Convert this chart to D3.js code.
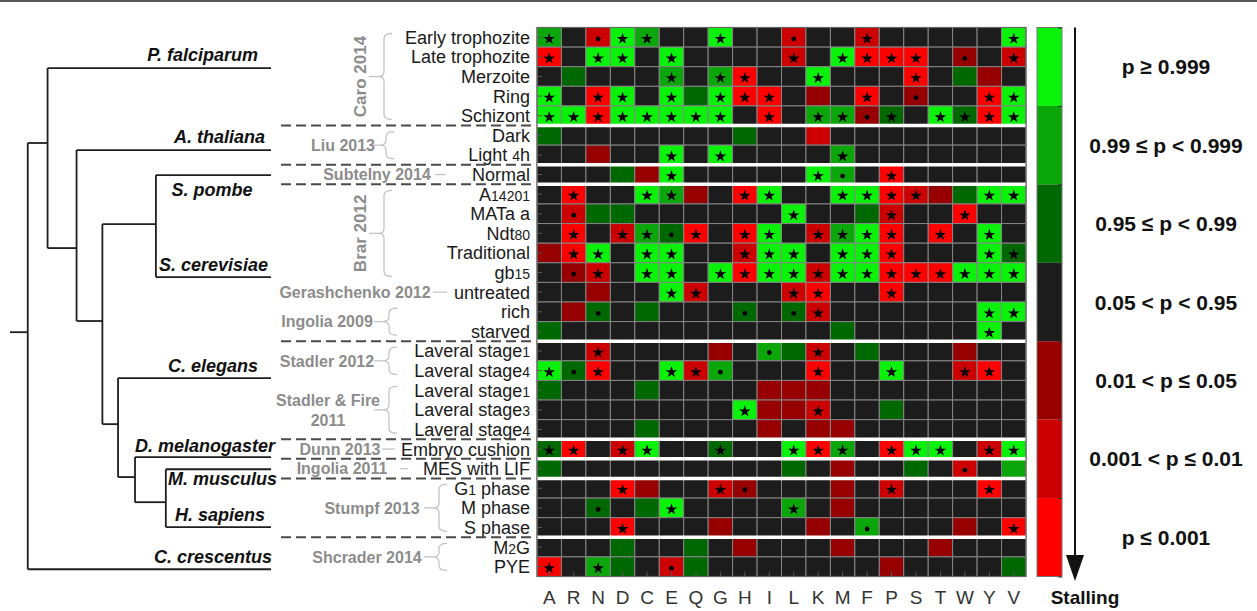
<!DOCTYPE html>
<html>
<head>
<meta charset="utf-8">
<script src="https://cdn.jsdelivr.net/npm/d3@7"></script>
<style>
  body { margin: 0; background: #fff; }
  svg { display: block; font-family: "Liberation Sans", Arial, sans-serif; }
</style>
</head>
<body>
<svg id="chart" width="1257" height="611"></svg>
<script>
// amino acid columns
var aminoAcids = ["A","R","N","D","C","E","Q","G","H","I","L","K","M","F","P","S","T","W","Y","V"];

// rows of the heatmap (digits get drawn smaller)
var sampleNames = ["Early trophozite","Late trophozite","Merzoite","Ring","Schizont",
    "Dark","Light 4h","Normal",
    "A14201","MATa a","Ndt80","Traditional","gb15",
    "untreated","rich","starved",
    "Laveral stage1","Laveral stage4",
    "Laveral stage1","Laveral stage3","Laveral stage4",
    "Embryo cushion","MES with LIF",
    "G1 phase","M phase","S phase",
    "M2G","PYE"];

// significance level per cell: 0 = p<=0.001 (stalling) ... 6 = p>=0.999
var cellLevels = [
    "53165336331331333336",
    "03663633331360003231",
    "34333535033633303423",
    "63063646003230323306",
    "66066666303552436406",
    "43333333433133333333",
    "33233636333353333333",
    "33342633333653033333",
    "30336523063366012466",
    "31443333336334133033",
    "30315403063156030363",
    "20636633166366033364",
    "32136636066166000666",
    "33233613331033033333",
    "32434333434133333366",
    "43333333333343333363",
    "33133332354134333233",
    "64033615333033633103",
    "43334333322233333333",
    "33333333622133433333",
    "33334333323223333333",
    "40316334336053066316",
    "43333333334323343135",
    "33302331233323133303",
    "33434633335323333333",
    "33303332333235333230",
    "33343343233323332333",
    "03543143333333233334"
];

// markers per cell: * star, . dot, - none
var cellMarks = [
    "*-.**--*--.--*-----*",
    "*-**-*----*-****-.-*",
    "-----*-**--*---*----",
    "*-**-*-***---*-.--**",
    "********-*-**.*-****",
    "--------------------",
    "-----*-*----*-------",
    "-----*-----*.-*-----",
    "-*--**--**--****--**",
    "-.--------*---*--*--",
    "-*-**.*-**-****-*-*-",
    "-**-**--***-***---**",
    "-.*-**-*************",
    "-----**---**--*-----",
    "--.-----.-.*------**",
    "------------------*-",
    "--*------.-*--------",
    "*.*--**.---*--*--**-",
    "--------------------",
    "--------*--*--------",
    "--------------------",
    "**-**--*--***-***-**",
    "-----------------.--",
    "---*---*.-----*---*-",
    "--.--*----*---------",
    "---*---------.-----*",
    "--------------------",
    "*-*--.--------------"
];

var levelColors = ["#ff0000","#cc0000","#960000","#1c1c1c","#006800","#0aa60a","#0af20a"];
var levelLabels = ["p \u2264 0.001","0.001 < p \u2264 0.01","0.01 < p \u2264 0.05","0.05 < p < 0.95",
    "0.95 \u2264 p < 0.99","0.99 \u2264 p < 0.999","p \u2265 0.999"];

// studies grouping the rows
var studyNames = ["Caro 2014","Liu 2013","Subtelny 2014","Brar 2012","Gerashchenko 2012","Ingolia 2009",
    "Stadler 2012","Stadler & Fire|2011","Dunn 2013","Ingolia 2011","Stumpf 2013","Shcrader 2014"];
var studyFirstRow = [0,5,7,8,13,14,16,18,21,22,23,26];
var studyRowCount = [5,2,1,5,1,2,2,3,1,1,3,2];
// dashed / white separators sit before these rows
var separatorRows = [5,7,8,16,21,22,23,26];

// species tree: branch position (0-100) and row position of every node
var treeNames   = ["root","n1","P. falciparum","n2","A. thaliana","n3","yeast","S. pombe","S. cerevisiae",
    "anim","C. elegans","n5","D. melanogaster","n6","M. musculus","H. sapiens","C. crescentus"];
var treeParents = ["","root","n1","n1","n2","n2","n3","yeast","yeast","n3","anim","anim","n5","n5","n6","n6","root"];
var treeDepth   = [6.8,14.4,100,25.5,100,35.4,55.9,100,100,41.4,100,47.9,100,59.7,100,100,100];
var treeRow     = [15.54,5.89,2.07,11.25,6.25,14.97,10.03,7.53,12.73,20.23,17.88,22.93,21.91,24.21,22.53,25.48,27.63];

var svg = d3.select("#chart");

// top rule
svg.append("line").attr("x1", 0).attr("x2", 1257).attr("y1", 1).attr("y2", 1)
    .attr("stroke", "#222").attr("stroke-width", 1.5);

var x = d3.scaleBand().domain(d3.range(aminoAcids.length)).range([537, 1026]);
var y = d3.scaleBand().domain(d3.range(sampleNames.length)).range([27.5, 576.5]);
var yRow = d3.scaleLinear().domain([0, sampleNames.length]).range([27.5, 576.5]);

// ---- heatmap cells
var cells = [];
cellLevels.forEach(function (row, r) {
    for (var c = 0; c < aminoAcids.length; c++) {
        cells.push({ r: r, c: c, level: +row[c], mark: cellMarks[r][c] });
    }
});

var heat = svg.append("g");
heat.selectAll("rect.cell")
    .data(cells)
    .enter()
    .append("rect")
    .attr("class", "cell")
    .attr("x", function (d) { return x(d.c); })
    .attr("y", function (d) { return y(d.r); })
    .attr("width", x.bandwidth())
    .attr("height", y.bandwidth())
    .attr("fill", function (d) { return levelColors[d.level]; })
    .attr("stroke", "#858585")
    .attr("stroke-width", 1);

var star = d3.symbol().type(d3.symbolStar).size(42);
var dot = d3.symbol().type(d3.symbolCircle).size(18);
heat.selectAll("path.mark")
    .data(cells.filter(function (d) { return d.mark !== "-"; }))
    .enter()
    .append("path")
    .attr("class", "mark")
    .attr("d", function (d) { return d.mark === "*" ? star() : dot(); })
    .attr("transform", function (d) {
        return "translate(" + (x(d.c) + x.bandwidth() / 2) + "," + (y(d.r) + y.bandwidth() / 2 + 1.5) + ")";
    })
    .attr("fill", "#000");

// small inner ticks
heat.append("g").attr("transform", "translate(537,0)")
    .call(d3.axisLeft(y).tickSize(-5).tickFormat(""))
    .call(function (g) { g.select(".domain").remove(); g.selectAll("line").attr("stroke", "#555"); });
heat.append("g").attr("transform", "translate(0,576.5)")
    .call(d3.axisBottom(x).tickSize(-5).tickFormat(""))
    .call(function (g) { g.select(".domain").remove(); g.selectAll("line").attr("stroke", "#555"); });

// white separators
heat.selectAll("line.sep")
    .data(separatorRows)
    .enter()
    .append("line")
    .attr("x1", 537).attr("x2", 1026)
    .attr("y1", function (d) { return yRow(d); })
    .attr("y2", function (d) { return yRow(d); })
    .attr("stroke", "#fff").attr("stroke-width", 3.5);

heat.append("rect")
    .attr("x", 537).attr("y", 27.5).attr("width", 489).attr("height", 549)
    .attr("fill", "none").attr("stroke", "#666").attr("stroke-width", 1.2);

// column labels
svg.append("g").attr("transform", "translate(0,576.5)")
    .call(d3.axisBottom(x).tickSize(0).tickPadding(14).tickFormat(function (i) { return aminoAcids[i]; }))
    .call(function (g) {
        g.select(".domain").remove();
        g.selectAll("text").attr("font-size", 19).attr("fill", "#333")
            .attr("font-family", "Liberation Sans, Arial, sans-serif");
    });

// ---- row labels
var rowLabels = svg.append("g");
sampleNames.forEach(function (name, r) {
    var t = rowLabels.append("text")
        .attr("x", 530)
        .attr("y", y(r) + y.bandwidth() / 2)
        .attr("dy", "0.36em")
        .attr("text-anchor", "end")
        .attr("font-size", 18)
        .attr("fill", "#1a1a1a");
    name.split(/(\d+)/).forEach(function (part) {
        if (!part) return;
        t.append("tspan").attr("font-size", /\d/.test(part) ? 14 : null).text(part);
    });
});

// ---- dashed separators between studies
svg.selectAll("line.dash")
    .data(separatorRows)
    .enter()
    .append("line")
    .attr("x1", 281).attr("x2", 535)
    .attr("y1", function (d) { return yRow(d); })
    .attr("y2", function (d) { return yRow(d); })
    .attr("stroke", "#4a4a4a").attr("stroke-width", 2)
    .attr("stroke-dasharray", "10,5");

// ---- study labels with braces
var studyLayout = [
    { cx: 360, rotate: true, brace: 384 },
    { cx: 343, brace: 386 },
    { cx: 377, link: [435, 446] },
    { cx: 360, rotate: true, brace: 384 },
    { cx: 355, link: [433, 447] },
    { cx: 327, brace: 389 },
    { cx: 327, brace: 389 },
    { cx: 328, brace: 389 },
    { cx: 340, link: [382, 395] },
    { cx: 342, link: [400, 408] },
    { cx: 372, brace: 439 },
    { cx: 367, brace: 439 }
];

function bracePath(bx, y1, y2) {
    var ym = (y1 + y2) / 2;
    return "M" + (bx + 8) + "," + y1 +
        " Q" + bx + "," + y1 + " " + bx + "," + (y1 + 5) +
        " L" + bx + "," + (ym - 5) +
        " Q" + bx + "," + ym + " " + (bx - 6) + "," + ym +
        " Q" + bx + "," + ym + " " + bx + "," + (ym + 5) +
        " L" + bx + "," + (y2 - 5) +
        " Q" + bx + "," + y2 + " " + (bx + 8) + "," + y2;
}

var studies = svg.append("g");
studyNames.forEach(function (name, i) {
    var lay = studyLayout[i];
    var top = yRow(studyFirstRow[i]);
    var bottom = yRow(studyFirstRow[i] + studyRowCount[i]);
    var mid = (top + bottom) / 2;

    if (lay.brace) {
        studies.append("path")
            .attr("d", bracePath(lay.brace, top + 6, bottom - 6))
            .attr("fill", "none").attr("stroke", "#c4c4c4").attr("stroke-width", 1.3);
        studies.append("line")
            .attr("x1", lay.brace - 15).attr("x2", lay.brace - 6)
            .attr("y1", mid).attr("y2", mid)
            .attr("stroke", "#c4c4c4").attr("stroke-width", 1.3);
    } else {
        studies.append("line")
            .attr("x1", lay.link[0]).attr("x2", lay.link[1])
            .attr("y1", mid).attr("y2", mid)
            .attr("stroke", "#c4c4c4").attr("stroke-width", 1.3);
    }

    var lines = name.split("|");
    var t = studies.append("text")
        .attr("text-anchor", "middle")
        .attr("font-weight", "bold")
        .attr("fill", "#8c8c8c")
        .attr("font-size", lay.rotate ? 17 : 16);
    if (lay.rotate) {
        t.attr("transform", "translate(" + (lay.cx + 6) + "," + mid + ") rotate(-90)").text(name);
    } else {
        lines.forEach(function (ln, k) {
            t.append("tspan")
                .attr("x", lay.cx)
                .attr("y", mid + (k - (lines.length - 1) / 2) * 20)
                .attr("dy", "0.36em")
                .text(ln);
        });
    }
});

// ---- species tree
var xT = d3.scaleLinear().domain([0, 100]).range([10, 271]);
var nodes = treeNames.map(function (n, i) {
    return { id: n, parent: treeParents[i], depth: treeDepth[i], row: treeRow[i] };
});
var byId = {};
nodes.forEach(function (n) { byId[n.id] = n; });

var tree = svg.append("g").attr("stroke", "#1e1e1e").attr("stroke-width", 1.8).attr("fill", "none");
nodes.forEach(function (n) {
    var px = n.parent ? xT(byId[n.parent].depth) : xT(0);
    tree.append("line")
        .attr("x1", px).attr("x2", xT(n.depth))
        .attr("y1", yRow(n.row)).attr("y2", yRow(n.row));
    var kids = nodes.filter(function (k) { return k.parent === n.id; });
    if (kids.length) {
        var ext = d3.extent(kids, function (k) { return k.row; });
        tree.append("line")
            .attr("x1", xT(n.depth)).attr("x2", xT(n.depth))
            .attr("y1", yRow(ext[0])).attr("y2", yRow(ext[1]));
    }
});

var speciesLabelPlace = {
    "P. falciparum":   { anchor: "end", x: 258, dy: -7 },
    "A. thaliana":     { anchor: "end", x: 265, dy: -7 },
    "S. pombe":        { anchor: "middle", x: 212, dy: 21 },
    "S. cerevisiae":   { anchor: "end", x: 268, dy: -6 },
    "C. elegans":      { anchor: "end", x: 258, dy: -6 },
    "D. melanogaster": { anchor: "end", x: 275, dy: -5 },
    "M. musculus":     { anchor: "end", x: 277, dy: 16 },
    "H. sapiens":      { anchor: "middle", x: 220, dy: -6 },
    "C. crescentus":   { anchor: "end", x: 272, dy: -6 }
};
svg.append("g").selectAll("text")
    .data(nodes.filter(function (n) { return speciesLabelPlace[n.id]; }))
    .enter()
    .append("text")
    .attr("x", function (d) { return speciesLabelPlace[d.id].x; })
    .attr("y", function (d) { return yRow(d.row) + speciesLabelPlace[d.id].dy; })
    .attr("text-anchor", function (d) { return speciesLabelPlace[d.id].anchor; })
    .attr("font-size", 18)
    .attr("font-weight", "bold")
    .attr("font-style", "italic")
    .attr("fill", "#111")
    .text(function (d) { return d.id; });

// ---- legend
var legendOrder = d3.range(levelColors.length).reverse();
var yL = d3.scaleBand().domain(legendOrder).range([27.5, 576.5]);
var legend = svg.append("g");
legend.selectAll("rect")
    .data(legendOrder)
    .enter()
    .append("rect")
    .attr("x", 1037).attr("width", 25)
    .attr("y", function (d) { return yL(d); })
    .attr("height", yL.bandwidth())
    .attr("fill", function (d) { return levelColors[d]; });
legend.append("rect")
    .attr("x", 1037).attr("y", 27.5).attr("width", 25).attr("height", 549)
    .attr("fill", "none").attr("stroke", "#777").attr("stroke-width", 1);
legend.append("g").attr("transform", "translate(1062,0)")
    .call(d3.axisLeft(d3.scaleLinear().domain([0, 7]).range([27.5, 576.5])).ticks(7).tickSize(4).tickFormat(""))
    .call(function (g) { g.select(".domain").remove(); g.selectAll("line").attr("stroke", "#333"); });

legend.selectAll("text.lvl")
    .data(legendOrder)
    .enter()
    .append("text")
    .attr("class", "lvl")
    .attr("x", 1166)
    .attr("y", function (d) { return yL(d) + yL.bandwidth() / 2; })
    .attr("dy", "0.36em")
    .attr("text-anchor", "middle")
    .attr("font-size", 21)
    .attr("font-weight", "bold")
    .attr("fill", "#111")
    .text(function (d) { return levelLabels[d]; });

legend.append("line")
    .attr("x1", 1075).attr("x2", 1075).attr("y1", 27.5).attr("y2", 558)
    .attr("stroke", "#111").attr("stroke-width", 2);
legend.append("path")
    .attr("d", "M1066,555 L1084,555 L1075,581 Z")
    .attr("fill", "#111");
legend.append("text")
    .attr("x", 1085).attr("y", 604)
    .attr("text-anchor", "middle")
    .attr("font-size", 19)
    .attr("font-weight", "bold")
    .attr("fill", "#111")
    .text("Stalling");
</script>
</body>
</html>
